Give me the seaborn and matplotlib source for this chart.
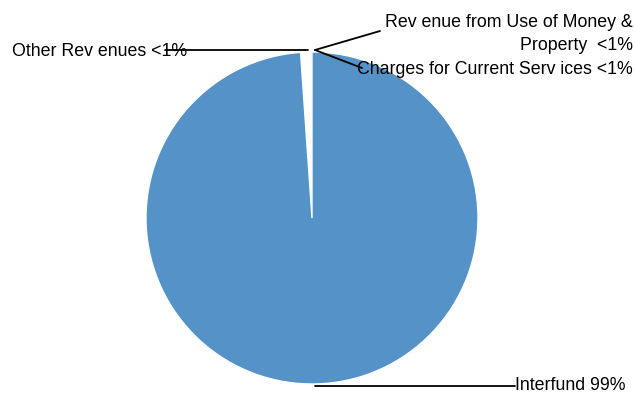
import matplotlib
matplotlib.use("Agg")
import matplotlib.pyplot as plt
import seaborn as sns

# data (small slices are "<1%")
categories = ["Charges for Current Services", "Revenue from Use of Money & Property",
              "Other Revenues", "Interfund"]
shares = [0.35, 0.35, 0.4, 98.9]
labels = ["Charges for Current Serv ices <1%", "Rev enue from Use of Money &\nProperty  <1%",
          "Other Rev enues <1%", "Interfund 99%"]
colors = ["white", "white", "white", "#5592C8"]

sns.set_theme(style="white")
plt.rcParams['font.family'] = ['Liberation Sans', 'DejaVu Sans']

W, H = 635, 398
cx, cy, r = 312, 218, 166

fig = plt.figure(figsize=(W / 100, H / 100), dpi=100)
ax = fig.add_axes([(cx - r) / W, (H - cy - r) / H, 2 * r / W, 2 * r / H])

wedges, _ = ax.pie(shares, colors=colors, startangle=90, counterclock=True,
                   radius=1, wedgeprops=dict(edgecolor="white", linewidth=1))
ax.set_xlim(-1, 1)
ax.set_ylim(-1, 1)
ax.set_aspect("equal")
ax.axis("off")


def px(x, y):
    # pixel position -> data coords of the pie axes
    return ((x - cx) / r, (cy - y) / r)


line = dict(arrowprops=dict(arrowstyle="-", color="black", lw=1.3, shrinkA=0, shrinkB=0),
            annotation_clip=False)
txt = dict(fontsize=12.8, color="black", clip_on=False)

# leader lines
ax.annotate("", xy=px(308, 50), xytext=px(165, 50), **line)
ax.annotate("", xy=px(315, 50), xytext=px(380, 31), **line)
ax.annotate("", xy=px(315, 50), xytext=px(362, 68), **line)
ax.annotate("", xy=px(315, 386), xytext=px(515, 386), **line)

# labels
ax.text(*px(12, 51), labels[2], ha="left", va="center", **txt)
ax.text(*px(633, 34), labels[1], ha="right", va="center", multialignment="right",
        linespacing=1.45, **txt)
ax.text(*px(633, 70), labels[0], ha="right", va="center", **txt)
ax.text(*px(515, 385), labels[3], ha="left", va="center", **txt)

fig.savefig("out.png", dpi=100)
